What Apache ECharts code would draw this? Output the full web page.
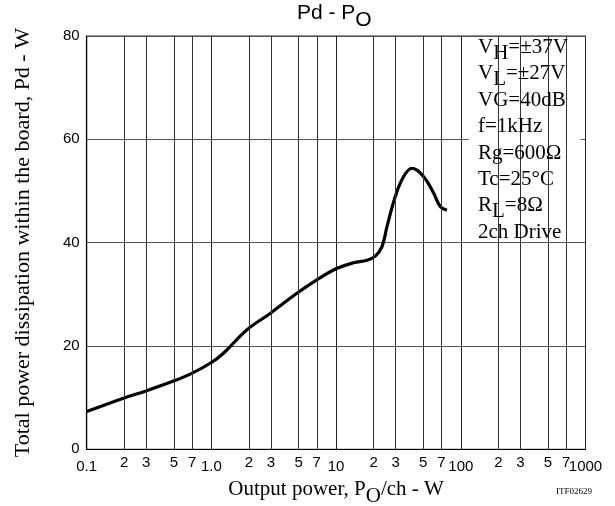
<!DOCTYPE html>
<html>
<head>
<meta charset="utf-8">
<script src="https://cdn.jsdelivr.net/npm/echarts@6/dist/echarts.min.js"></script>
<style>html,body{margin:0;padding:0;background:#fff}#c{width:615px;height:506px}</style>
</head>
<body>
<div id="c"></div>
<script>
// Output power per channel (W)
var outputPower = [0.1, 0.197, 0.303, 0.496, 0.695, 1.0, 1.25, 1.92, 2.96, 4.85, 7.0, 10.1, 13.8, 17.7, 20.6, 23.3, 25.6, 29.8, 34.8, 40.6, 50.2, 60.5, 68.4, 77.4];
// Total power dissipation (W)
var dissipation = [7.3, 9.9, 11.35, 13.2, 14.7, 16.8, 18.6, 23.1, 26.3, 30.2, 32.8, 35.0, 36.1, 36.6, 37.4, 39.2, 43.1, 48.9, 52.8, 54.4, 52.8, 49.6, 47.0, 46.3];
// Axis tick labels
var decadeValues = [0.1, 1, 10, 100, 1000];
var decadeLabels = ['0.1', '1.0', '10', '100', '1000'];
var minorValues = [0.2, 0.3, 0.5, 0.7, 2, 3, 5, 7, 20, 30, 50, 70, 200, 300, 500, 700];
var minorLabels = ['2', '3', '5', '7', '2', '3', '5', '7', '2', '3', '5', '7', '2', '3', '5', '7'];
var yTicks = [0, 20, 40, 60, 80];
// Condition notes
var notes = [
  ['V', 'H', '=±37V'],
  ['V', 'L', '=±27V'],
  ['VG=40dB', '', ''],
  ['f=1kHz', '', ''],
  ['Rg=600Ω', '', ''],
  ['Tc=25°C', '', ''],
  ['R', 'L', '=8Ω'],
  ['2ch Drive', '', '']
];

var serif = '"Liberation Serif", "DejaVu Serif", serif';
var sans = '"Liberation Sans", Arial, sans-serif';

var curve = outputPower.map(function (x, i) { return [x, dissipation[i]]; });

var minorLines = minorValues.map(function (v, i) {
  return [
    { coord: [v, yTicks[0]], label: { formatter: minorLabels[i] } },
    { coord: [v, yTicks[yTicks.length - 1]] }
  ];
});

var noteGraphics = notes.map(function (n, i) {
  var txt = n[1] ? '{a|' + n[0] + '}{s|' + n[1] + '}{a|' + n[2] + '}' : '{a|' + n[0] + '}';
  return {
    type: 'text',
    left: 478,
    top: 37 + i * 26.4,
    z: 100,
    style: {
      text: txt,
      rich: {
        a: { fontFamily: serif, fontSize: 21, lineHeight: 23, verticalAlign: 'top', fill: '#000' },
        s: { fontFamily: serif, fontSize: 21, lineHeight: 27, verticalAlign: 'bottom', fill: '#000' }
      }
    }
  };
});

var chart = echarts.init(document.getElementById('c'), null, { renderer: 'canvas' });
chart.setOption({
  animation: false,
  backgroundColor: '#fff',
  grid: {
    left: 86.7, right: 29.5, top: 36, bottom: 56.7,
    outerBoundsMode: 'none', containLabel: false,
    show: true, borderColor: '#222', borderWidth: 1
  },
  xAxis: {
    type: 'log',
    logBase: 10,
    min: 0.1,
    max: 1000,
    name: '{a|Output power, P}{s|O}{a|/ch - W}',
    nameLocation: 'middle',
    nameGap: 27,
    nameTextStyle: {
      rich: {
        a: { fontFamily: serif, fontSize: 21, lineHeight: 23, verticalAlign: 'top', color: '#000' },
        s: { fontFamily: serif, fontSize: 21, lineHeight: 28, verticalAlign: 'bottom', color: '#000' }
      }
    },
    axisLine: { show: true, lineStyle: { color: '#000', width: 1.2 } },
    axisTick: { show: false },
    axisLabel: {
      margin: 10,
      fontFamily: sans,
      fontSize: 15,
      color: '#000',
      formatter: function (v) {
        var k = Math.round(Math.log10(v)) + 1;
        return decadeLabels[k];
      }
    },
    splitLine: { show: true, lineStyle: { color: '#222', width: 1 } },
    minorTick: { show: false },
    minorSplitLine: { show: false }
  },
  yAxis: {
    type: 'value',
    min: yTicks[0],
    max: yTicks[yTicks.length - 1],
    interval: 20,
    name: 'Total power dissipation within the board, Pd - W',
    nameLocation: 'middle',
    nameGap: 52,
    nameTextStyle: { fontFamily: serif, fontSize: 22, color: '#000' },
    axisLine: { show: true, lineStyle: { color: '#000', width: 1.2 } },
    axisTick: { show: false },
    axisLabel: { margin: 7, fontFamily: sans, fontSize: 15, color: '#000' },
    splitLine: { show: true, lineStyle: { color: '#555', width: 1 } }
  },
  graphic: [
    {
      type: 'text',
      left: 297,
      top: 3,
      style: {
        text: '{a|Pd - P}{s|O}',
        rich: {
          a: { fontFamily: sans, fontSize: 21, lineHeight: 23, verticalAlign: 'top', fill: '#000' },
          s: { fontFamily: sans, fontSize: 21, lineHeight: 28, verticalAlign: 'bottom', fill: '#000' }
        }
      }
    },
    {
      type: 'text',
      left: 556,
      top: 487,
      style: { text: 'ITF02629', fontFamily: serif, fontSize: 9, fill: '#000' }
    }
  ].concat(noteGraphics),
  series: [
    {
      type: 'scatter',
      data: [],
      z: 1,
      silent: true,
      markLine: {
        silent: true,
        symbol: ['none', 'none'],
        animation: false,
        lineStyle: { type: 'solid', color: '#333', width: 1 },
        label: {
          show: true,
          position: 'start',
          distance: 6,
          fontFamily: sans,
          fontSize: 15,
          color: '#000'
        },
        emphasis: { disabled: true },
        data: minorLines
      }
    },
    {
      type: 'scatter',
      data: [],
      z: 2,
      silent: true,
      markArea: {
        silent: true,
        itemStyle: { color: '#fff', opacity: 1 },
        data: [[{ coord: [116, 40.3] }, { coord: [912, 79.7] }]]
      }
    },
    {
      type: 'line',
      data: curve,
      z: 3,
      smooth: 0.4,
      showSymbol: false,
      symbol: 'none',
      lineStyle: { color: '#000', width: 3.2 }
    }
  ]
});
</script>
</body>
</html>
